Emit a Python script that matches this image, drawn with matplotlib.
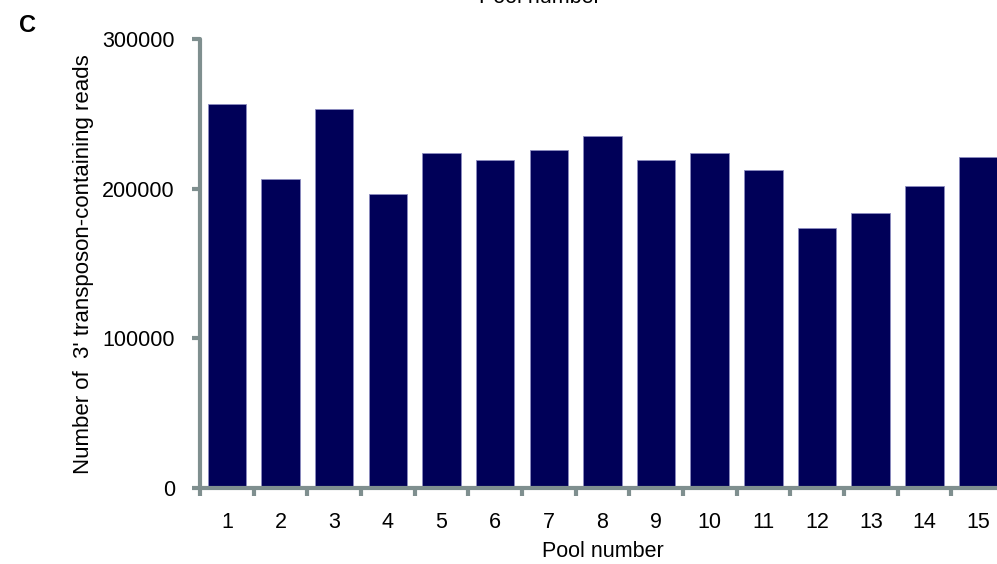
import numpy as np
import matplotlib
matplotlib.use("Agg")
import matplotlib.pyplot as plt

plt.rcParams["font.family"] = ["Liberation Sans", "DejaVu Sans"]

# reads per pool
pools = [str(i) for i in range(1, 16)]
reads = [256800, 206500, 253500, 196400, 223900, 219400, 226100, 235300,
         219400, 223900, 212500, 173700, 183700, 202000, 221600]
y_ticks = [0, 100000, 200000, 300000]

AXIS_GREY = "#7f8f8f"
BAR_BLUE = "#000058"
FS = 15.5

fig = plt.figure(figsize=(9.97, 5.64), dpi=100)
ax = fig.add_axes([0.2006, 0.1348, 0.8074, 0.7952])

x = np.arange(len(pools))
ax.bar(x, reads, width=0.72, color=BAR_BLUE, edgecolor="#8c8cc0", linewidth=0.6)

ax.set_xlim(-0.5, len(pools) - 0.5)
ax.set_ylim(0, 300000)

for side in ("top", "right"):
    ax.spines[side].set_visible(False)
for side in ("left", "bottom"):
    ax.spines[side].set_color(AXIS_GREY)
    ax.spines[side].set_linewidth(3)
    ax.spines[side].set_capstyle("round")

ax.set_yticks(y_ticks)
ax.set_yticklabels([str(v) for v in y_ticks])
ax.tick_params(axis="y", direction="out", length=6, width=3, color=AXIS_GREY,
               labelsize=FS, pad=12)

# ticks sit between categories, labels centred under bars
ax.set_xticks(np.arange(-0.5, len(pools), 1.0))
ax.set_xticklabels([])
ax.set_xticks(x, minor=True)
ax.set_xticklabels(pools, minor=True)
ax.tick_params(axis="x", which="major", direction="out", length=6, width=3, color=AXIS_GREY)
ax.tick_params(axis="x", which="minor", length=0, labelsize=FS, pad=17)

ax.set_xlabel("Pool number", fontsize=FS, labelpad=6)
ax.set_ylabel("Number of  3' transposon-containing reads", fontsize=16, labelpad=6)

fig.text(0.019, 0.955, "C", fontsize=17, fontweight="bold", ha="left", va="center")
fig.text(0.542, 1.004, "Pool number", fontsize=FS, ha="center", va="center")

fig.savefig("out.png", dpi=100)
